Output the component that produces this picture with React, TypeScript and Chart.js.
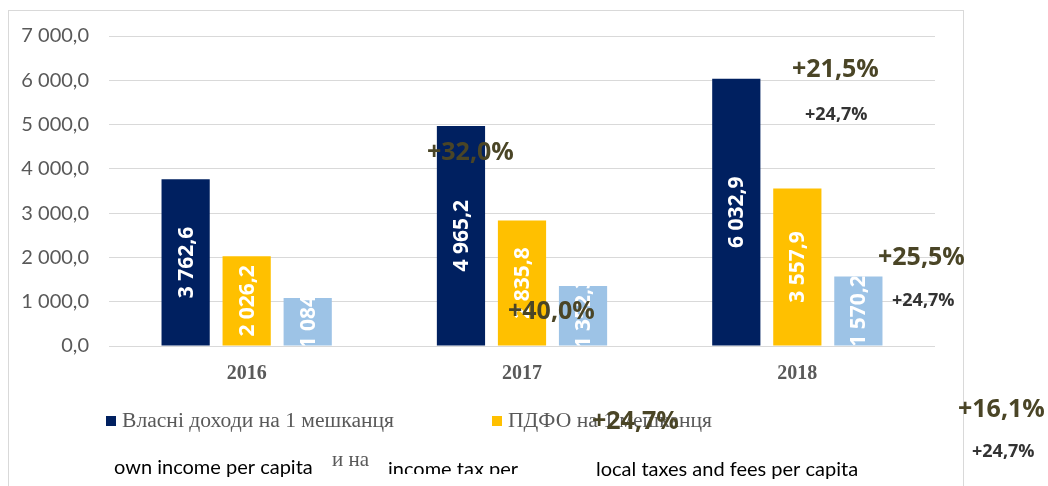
import React, { useEffect, useRef } from "react";
import { Chart, registerables } from "chart.js";

Chart.register(...registerables);

// ---- data ----
const years = ["2016", "2017", "2018"];
const ownIncome = [3762.6, 4965.2, 6032.9];
const pitIncome = [2026.2, 2835.8, 3557.9];
const localTaxes = [1084.4, 1352.3, 1570.2];
const seriesNames = ["Власні доходи на 1 мешканця", "ПДФО на 1 мешканця", ""];
const seriesColors = ["#002060", "#FFC000", "#9DC3E6"];
const yTicksMax = 7000;
const yTicksStep = 1000;

// English captions under the legend
const captions = [
  { text: "own income per capita", x: 114, y: 468, font: "20px Lato", color: "#000000" },
  { text: "и на", x: 332, y: 460, font: "21px 'Liberation Serif'", color: "#595959" },
  { text: "income tax per", x: 388, y: 470, font: "20px Lato", color: "#000000", clipBottom: 474 },
  { text: "local taxes and fees per capita", x: 596, y: 470, font: "20px Lato", color: "#000000" },
];

// growth annotations: [series, yearIndex] with text placement
const growthNotes = [
  { s: 0, i: 1, x: 427, y: 153, big: true },
  { s: 1, i: 1, x: 508, y: 312, big: true },
  { s: 2, i: 1, x: 592, y: 422, big: true },
  { s: 0, i: 2, x: 792, y: 70, big: true },
  { s: 1, i: 2, x: 878, y: 258, big: true },
  { s: 2, i: 2, x: 958, y: 410, big: true },
  { s: 2, i: 1, x: 805, y: 115, big: false },
  { s: 2, i: 1, x: 892, y: 301, big: false },
  { s: 2, i: 1, x: 972, y: 452, big: false },
];

const allSeries = [ownIncome, pitIncome, localTaxes];

function fmtNum(v: number, dec: number): string {
  const s = v.toFixed(dec);
  const [intPart, decPart] = s.split(".");
  const withSpaces = intPart.replace(/\B(?=(\d{3})+(?!\d))/g, " ");
  return decPart !== undefined ? withSpaces + "," + decPart : withSpaces;
}

function growthText(s: number, i: number): string {
  const arr = allSeries[s];
  const g = (arr[i] / arr[i - 1] - 1) * 100;
  return "+" + g.toFixed(1).replace(".", ",") + "%";
}

const barLabelPlugin = {
  id: "barLabels",
  afterDatasetsDraw(chart: any) {
    const ctx = chart.ctx;
    chart.data.datasets.forEach((ds: any, di: number) => {
      const meta = chart.getDatasetMeta(di);
      meta.data.forEach((bar: any, i: number) => {
        const { x, y, base, width } = bar.getProps(["x", "y", "base", "width"], true);
        const text = fmtNum(ds.data[i], 1);
        ctx.save();
        ctx.font = "bold 21px 'Open Sans'";
        const L = ctx.measureText(text).width;
        // start of rotated text (bottom end), kept near the bar base
        const start = Math.min((y + base) / 2 + L / 2, base + 3);
        ctx.beginPath();
        ctx.rect(x - width / 2, y, width, base - y);
        ctx.clip();
        ctx.translate(x, start);
        ctx.rotate(-Math.PI / 2);
        ctx.fillStyle = "#ffffff";
        ctx.textAlign = "left";
        ctx.textBaseline = "middle";
        ctx.fillText(text, 0, 1);
        ctx.restore();
      });
    });
  },
};

const decorPlugin = {
  id: "decor",
  beforeDraw(chart: any) {
    const ctx = chart.ctx;
    ctx.save();
    ctx.fillStyle = "#ffffff";
    ctx.fillRect(0, 0, chart.width, chart.height);
    ctx.strokeStyle = "#d9d9d9";
    ctx.lineWidth = 1;
    ctx.strokeRect(8.5, 10.5, 955, 520);
    ctx.restore();
  },
  afterDraw(chart: any) {
    const ctx = chart.ctx;
    ctx.save();
    // legend
    const legendPos = [
      { sq: 106, tx: 122 },
      { sq: 492, tx: 508 },
    ];
    chart.data.datasets.forEach((ds: any, di: number) => {
      if (!ds.label || !legendPos[di]) return;
      const p = legendPos[di];
      ctx.fillStyle = ds.backgroundColor;
      ctx.fillRect(p.sq, 416, 10, 10);
      ctx.font = "21.6px 'Liberation Serif'";
      ctx.fillStyle = "#595959";
      ctx.textAlign = "left";
      ctx.textBaseline = "middle";
      ctx.fillText(ds.label, p.tx, 421);
    });
    // captions
    captions.forEach((c: any) => {
      ctx.save();
      if (c.clipBottom) {
        ctx.beginPath();
        ctx.rect(0, 0, chart.width, c.clipBottom);
        ctx.clip();
      }
      ctx.font = c.font;
      ctx.fillStyle = c.color;
      ctx.textAlign = "left";
      ctx.textBaseline = "middle";
      ctx.fillText(c.text, c.x, c.y);
      ctx.restore();
    });
    // growth notes
    growthNotes.forEach((n) => {
      ctx.font = n.big ? "bold 25px 'Open Sans'" : "bold 18px 'Open Sans'";
      ctx.fillStyle = n.big ? "#4a4526" : "#333333";
      ctx.textAlign = "left";
      ctx.textBaseline = "middle";
      ctx.fillText(growthText(n.s, n.i), n.x, n.y);
    });
    ctx.restore();
  },
};

export default function App() {
  const ref = useRef<HTMLCanvasElement | null>(null);
  useEffect(() => {
    let chart: Chart | null = null;
    let cancelled = false;
    const fontsReady = (document as any).fonts
      ? Promise.all([
          (document as any).fonts.load("20px Lato"),
          (document as any).fonts.load("bold 21px 'Open Sans'"),
          (document as any).fonts.load("21px 'Liberation Serif'"),
          (document as any).fonts.load("bold 20px 'Liberation Serif'"),
        ]).catch(() => null)
      : Promise.resolve(null);
    fontsReady.then(() => {
      if (cancelled || !ref.current) return;
      chart = new Chart(ref.current, {
        type: "bar",
        data: {
          labels: years,
          datasets: allSeries.map((arr, k) => ({
            label: seriesNames[k],
            data: arr,
            backgroundColor: seriesColors[k],
            borderWidth: 0,
            categoryPercentage: 0.665,
            barPercentage: 0.79,
          })),
        },
        options: {
          animation: false,
          responsive: false,
          maintainAspectRatio: false,
          layout: { padding: { left: 0, right: 113, top: 36, bottom: 100 } },
          plugins: {
            legend: { display: false },
            tooltip: { enabled: false },
            title: { display: false },
          },
          scales: {
            x: {
              grid: { display: false, drawTicks: false },
              border: { display: false },
              ticks: {
                color: "#595959",
                font: { family: "'Liberation Serif'", size: 20, weight: "bold" },
                padding: 16,
              },
              afterFit: (s: any) => {
                s.height = 40;
              },
            },
            y: {
              min: 0,
              max: yTicksMax,
              grid: { color: "#d9d9d9", lineWidth: 1, drawTicks: false },
              border: { display: false },
              ticks: {
                stepSize: yTicksStep,
                color: "#595959",
                font: { family: "Lato", size: 20 },
                padding: 20,
                callback: (v: any) => fmtNum(Number(v), 1),
              },
              afterFit: (s: any) => {
                s.width = 109;
              },
            },
          },
        },
        plugins: [decorPlugin, barLabelPlugin],
      });
    });
    return () => {
      cancelled = true;
      if (chart) chart.destroy();
    };
  }, []);
  return (
    <div style={{ position: "fixed", left: 0, top: 0, width: 1048, height: 486, background: "#fff" }}>
      <canvas ref={ref} width={1048} height={486} style={{ display: "block", width: 1048, height: 486 }} />
    </div>
  );
}
